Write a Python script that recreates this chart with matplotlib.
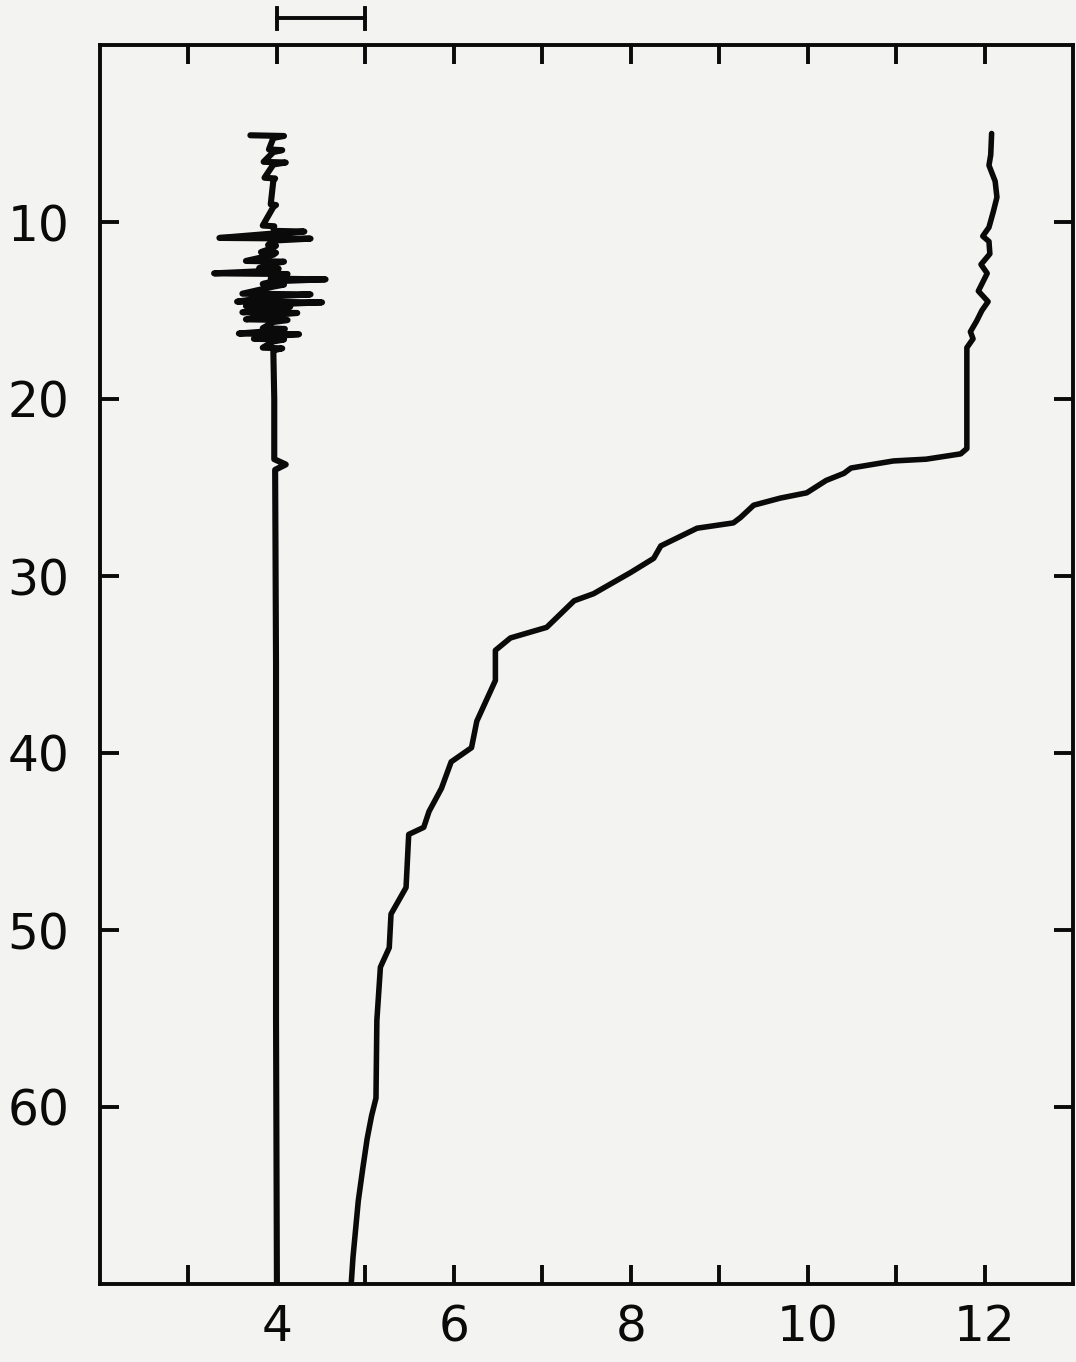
import numpy as np
import matplotlib
matplotlib.use("Agg")
import matplotlib.pyplot as plt

# --- datos ---
# perfil de la derecha (valor, profundidad)
perfil_x = [12.08, 12.07, 12.05, 12.12, 12.14, 12.10, 12.05, 11.98, 12.05, 12.06,
            11.96, 12.03, 11.97, 11.93, 12.04, 11.97, 11.91, 11.84, 11.87, 11.80,
            11.80, 11.73, 11.34, 10.97, 10.49, 10.41, 10.21, 9.99, 9.69, 9.39,
            9.24, 9.16, 8.75, 8.34, 8.26, 8.00, 7.58, 7.36, 7.05, 6.64,
            6.47, 6.47, 6.26, 6.20, 5.97, 5.86, 5.72, 5.66, 5.49, 5.46,
            5.29, 5.27, 5.17, 5.13, 5.12, 5.07, 5.02, 4.97, 4.92, 4.86, 4.84]
perfil_z = [5.0, 6.2, 6.8, 7.7, 8.6, 9.4, 10.3, 10.8, 11.1, 11.8,
            12.4, 12.9, 13.5, 13.9, 14.5, 15.0, 15.6, 16.2, 16.6, 17.1,
            22.8, 23.1, 23.4, 23.5, 23.9, 24.2, 24.6, 25.3, 25.6, 26.0,
            26.7, 27.0, 27.3, 28.3, 29.0, 29.8, 31.0, 31.4, 32.9, 33.5,
            34.2, 35.9, 38.2, 39.7, 40.5, 42.0, 43.3, 44.2, 44.6, 47.6,
            49.1, 51.0, 52.1, 55.1, 59.5, 60.5, 61.8, 63.5, 65.3, 68.5, 70.0]

# traza ruidosa de la izquierda: picos horizontales (izq, der, profundidad)
pico_izq = [3.70, 3.91, 3.85, 3.86, 3.93, 3.84, 3.97, 3.35, 3.90, 3.82, 3.65,
            3.80, 3.29, 3.93, 3.84, 3.61, 3.55, 3.65, 3.61, 3.65, 3.84, 3.57, 3.74, 3.84]
pico_der = [4.08, 4.06, 4.10, 3.98, 3.99, 3.97, 4.31, 4.38, 3.99, 3.99, 4.08,
            4.02, 4.12, 4.55, 4.08, 4.38, 4.51, 4.15, 4.23, 4.12, 4.09, 4.25, 4.08, 4.06]
pico_z = [5.1, 5.9, 6.6, 7.5, 9.0, 10.2, 10.5, 10.9, 11.3, 11.7, 12.2,
          12.6, 12.9, 13.2, 13.5, 14.05, 14.5, 14.75, 15.1, 15.5, 16.0, 16.3, 16.6, 17.1]
# parte baja casi recta
base_x = [3.96, 3.97, 3.97, 4.10, 3.98, 3.99, 3.99, 4.00]
base_z = [17.4, 20.0, 23.4, 23.7, 24.0, 35.0, 55.0, 70.0]

escala = [4, 5]   # barra de escala arriba

ticks_x = list(range(3, 13))
etiq_x = [4, 6, 8, 10, 12]
ticks_y = [10, 20, 30, 40, 50, 60]

# construir la traza ruidosa
ruido_x, ruido_z = [], []
for l, r, z in zip(pico_izq, pico_der, pico_z):
    ruido_x += [l, r, 3.96]
    ruido_z += [z, z + 0.04, z + 0.15]
ruido_x += base_x
ruido_z += base_z

papel = "#f3f3f2"
tinta = "#0a0a0a"

fig = plt.figure(figsize=(10.76, 13.62), dpi=100, facecolor=papel)
ax = fig.add_axes([100 / 1076, 78 / 1362, 973 / 1076, 1239 / 1362])
ax.set_facecolor(papel)

ax.plot(ruido_x, ruido_z, color=tinta, lw=4.4, solid_capstyle="round",
        solid_joinstyle="round")
ax.plot(perfil_x, perfil_z, color=tinta, lw=4.0, solid_capstyle="round",
        solid_joinstyle="round")

# barra de escala sobre el marco
ax.plot(escala, [-1.5, -1.5], color=tinta, lw=2.8, clip_on=False)
for xv in escala:
    ax.plot([xv, xv], [-2.1, -0.9], color=tinta, lw=2.8, clip_on=False)

ax.set_xlim(2, 13)
ax.set_ylim(70, 0)

ax.set_xticks(ticks_x)
ax.set_xticklabels([str(t) if t in etiq_x else "" for t in ticks_x])
ax.set_yticks(ticks_y)
ax.set_yticklabels([str(t) for t in ticks_y])

for s in ax.spines.values():
    s.set_linewidth(2.8)
    s.set_color(tinta)

ax.tick_params(axis="both", direction="in", length=14, width=2.8, color=tinta,
               top=True, right=True, labelsize=35, labelcolor=tinta)
ax.tick_params(axis="x", pad=14)
ax.tick_params(axis="y", pad=22)
for lab in ax.get_xticklabels() + ax.get_yticklabels():
    lab.set_fontfamily("DejaVu Sans")

fig.savefig("out.png", dpi=100, facecolor=papel)
